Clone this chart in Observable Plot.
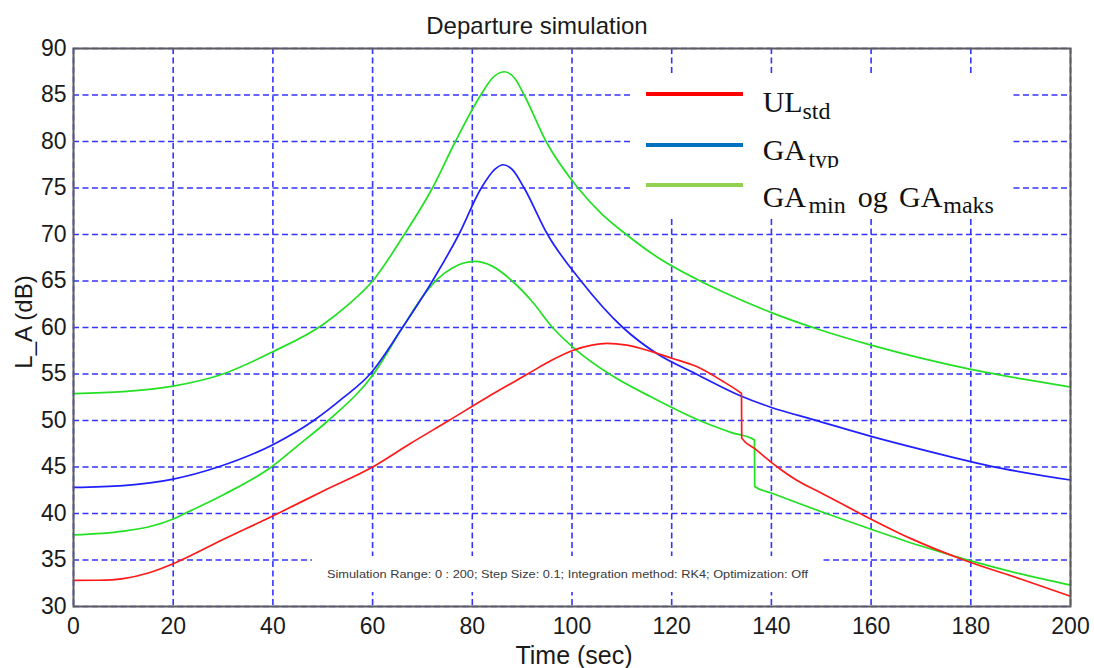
<!DOCTYPE html>
<html>
<head>
<meta charset="utf-8">
<script src="https://cdn.jsdelivr.net/npm/d3@7"></script>
<script src="https://cdn.jsdelivr.net/npm/@observablehq/plot@0.6"></script>
<style>
  html, body { margin: 0; padding: 0; background: #fff; }
  #wrap { position: relative; width: 1094px; height: 668px; overflow: hidden; background: #fff; }
  #chart { position: absolute; left: 0; top: 0; }
  #overlay { position: absolute; left: 0; top: 0; pointer-events: none; }
</style>
</head>
<body>
<div id="wrap">
  <div id="chart"></div>
  <svg id="overlay" width="1094" height="668"></svg>
</div>
<script>
// ---- Data ----
const title = "Departure simulation";
const xLabel = "Time (sec)";
const yLabel = "L_A (dB)";
const note = "Simulation Range: 0 : 200; Step Size: 0.1; Integration method: RK4; Optimization: Off";

const xTicks = [0, 20, 40, 60, 80, 100, 120, 140, 160, 180, 200];
const yTicks = [30, 35, 40, 45, 50, 55, 60, 65, 70, 75, 80, 85, 90];

// UL_std (red)
const timeUL  = [0, 5, 10, 15, 20, 30, 41, 50, 60, 67.5, 75.3, 83, 91.1, 96, 100, 104, 107, 111, 116, 120, 125, 130, 133.5, 134, 134.05, 136.6, 141.2, 145, 150, 157.8, 168, 178.6, 190, 200];
const levelUL = [32.8, 32.82, 33.0, 33.6, 34.6, 37.2, 40.0, 42.4, 45.0, 47.5, 50.0, 52.5, 55.0, 56.5, 57.5, 58.1, 58.3, 58.1, 57.4, 56.7, 55.8, 54.3, 53.1, 52.9, 48.1, 47.0, 45.0, 43.6, 42.2, 40.0, 37.3, 35.0, 32.95, 31.1];

// GA_typ (blue)
const timeTyp  = [0, 10, 20, 29, 40, 48.2, 54, 59.5, 66, 72, 77.3, 81.8, 84.5, 86.2, 88, 90.4, 95.1, 101.8, 110.2, 117, 124.9, 134, 140, 148.4, 160, 170, 183.9, 200];
const levelTyp = [42.8, 43.0, 43.7, 45.0, 47.4, 50.0, 52.4, 55.0, 60.0, 65.0, 70.0, 75.0, 77.0, 77.5, 77.0, 75.0, 70.0, 65.0, 60.0, 57.2, 55.0, 52.6, 51.4, 50.1, 48.3, 46.9, 45.1, 43.6];

// GA_maks (green, upper)
const timeMaks  = [0, 10, 20, 30, 40, 50, 55, 60, 66, 72, 76.6, 81.7, 84, 86.4, 88.5, 90.4, 94.8, 101.2, 106, 110.9, 117, 125.7, 130, 140, 150, 160, 170, 180, 190, 200];
const levelMaks = [52.9, 53.1, 53.7, 55.0, 57.4, 60.3, 62.4, 65.0, 69.7, 75.0, 80.0, 85.0, 86.8, 87.5, 86.8, 85.0, 80.0, 75.0, 72.2, 70.0, 67.6, 65.0, 63.9, 61.6, 59.7, 58.1, 56.7, 55.5, 54.5, 53.6];

// GA_min (green, lower)
const timeMin  = [0, 10, 20, 22.3, 30, 39.7, 45, 51.1, 60.2, 66, 70, 73, 76, 80.5, 84, 88, 92, 96.1, 100.8, 107.5, 116, 125.6, 132, 136.6, 136.65, 140, 151, 160, 170, 180, 190, 200];
const levelMin = [37.7, 38.1, 39.4, 40.0, 42.0, 45.0, 47.3, 50.0, 55.0, 60.0, 63.3, 65.2, 66.4, 67.1, 66.6, 65.0, 62.8, 60.0, 57.6, 55.0, 52.5, 50.0, 48.7, 47.9, 42.9, 42.2, 40.0, 38.3, 36.5, 34.9, 33.5, 32.3];

const seriesColors = { ul: "#ff1a1a", typ: "#2020ff", ga: "#22e022" };
const legendColors = { ul: "#ff0000", typ: "#0070c0", ga: "#92d050" };

const toRows = (ts, vs) => ts.map((t, i) => ({ t, v: vs[i] }));
const ul = toRows(timeUL, levelUL);
const typ = toRows(timeTyp, levelTyp);
const maks = toRows(timeMaks, levelMaks);
const mn = toRows(timeMin, levelMin);

const W = 1094, H = 668;
const mL = 73, mR = 24, mT = 48, mB = 62;

const gridStyle = { stroke: "#3434ff", strokeOpacity: 1, strokeWidth: 1.6, strokeDasharray: "6,3.5" };
const lineStyle = (c) => ({ x: "t", y: "v", stroke: c, strokeWidth: 1.7, curve: "monotone-x" });

const chart = Plot.plot({
  width: W, height: H,
  marginLeft: mL, marginRight: mR, marginTop: mT, marginBottom: mB,
  x: { domain: [0, 200] },
  y: { domain: [30, 90] },
  style: { fontFamily: "Arial, 'Liberation Sans', sans-serif", fontSize: "23px", color: "#1a1a1a", background: "white" },
  marks: [
    Plot.gridX(xTicks, gridStyle),
    Plot.gridY(yTicks, gridStyle),
    Plot.line(maks, lineStyle(seriesColors.ga)),
    Plot.line(mn, lineStyle(seriesColors.ga)),
    Plot.line(typ, lineStyle(seriesColors.typ)),
    Plot.line(ul, lineStyle(seriesColors.ul)),
    Plot.frame({ stroke: "#5c5c5c", strokeWidth: 2 }),
    Plot.axisX({ ticks: xTicks, tickSize: 0, tickPadding: 11, fontSize: 23, label: null }),
    Plot.axisY({ ticks: yTicks, tickSize: 0, tickPadding: 7, fontSize: 23, label: null })
  ]
});
document.getElementById("chart").appendChild(chart);

// ---- Overlay: title, axis labels, note box, legend ----
const ov = d3.select("#overlay");
const sans = "Arial, 'Liberation Sans', sans-serif";
const serif = "'Liberation Serif', 'DejaVu Serif', serif";

ov.append("text").attr("x", 537).attr("y", 34).attr("text-anchor", "middle")
  .attr("font-family", sans).attr("font-size", 24).attr("fill", "#1a1a1a").text(title);

ov.append("text").attr("x", 574).attr("y", 664).attr("text-anchor", "middle")
  .attr("font-family", sans).attr("font-size", 25).attr("fill", "#1a1a1a").text(xLabel);

ov.append("text").attr("transform", "translate(32,322) rotate(-90)").attr("text-anchor", "middle")
  .attr("font-family", sans).attr("font-size", 24).attr("fill", "#1a1a1a").text(yLabel);

// note box
ov.append("rect").attr("x", 312).attr("y", 556).attr("width", 511).attr("height", 36).attr("fill", "#fff");
ov.append("text").attr("x", 327).attr("y", 578)
  .attr("font-family", sans).attr("font-size", 11).attr("fill", "#3a3a3a")
  .attr("textLength", 481).attr("lengthAdjust", "spacingAndGlyphs").text(note);

// legend box
const lg = ov.append("g");
lg.append("rect").attr("x", 632).attr("y", 73).attr("width", 380).attr("height", 145).attr("fill", "#fff");
const legendRows = [
  { color: legendColors.ul, y: 94 },
  { color: legendColors.typ, y: 145 },
  { color: legendColors.ga, y: 185 }
];
legendRows.forEach(r => {
  lg.append("line").attr("x1", 646).attr("x2", 743).attr("y1", r.y).attr("y2", r.y)
    .attr("stroke", r.color).attr("stroke-width", 4);
});
const big = 30, small = 24;
function serifText(x, y, size, s) {
  return lg.append("text").attr("x", x).attr("y", y).attr("font-family", serif)
    .attr("font-size", size).attr("fill", "#111").text(s);
}
serifText(762.7, 111.7, big, "UL");
serifText(802.5, 118.5, small, "std");

const defs = ov.append("defs");
defs.append("clipPath").attr("id", "typclip").append("rect")
  .attr("x", 700).attr("y", 120).attr("width", 200).attr("height", 48);
serifText(762.7, 160, big, "GA");
serifText(808.4, 166.5, small, "typ").attr("clip-path", "url(#typclip)");

serifText(762.7, 206.7, big, "GA");
serifText(808.4, 213.2, small, "min");
serifText(857.7, 206.7, big, "og");
serifText(899, 206.7, big, "GA");
serifText(943.3, 213.2, small, "maks");
</script>
</body>
</html>
